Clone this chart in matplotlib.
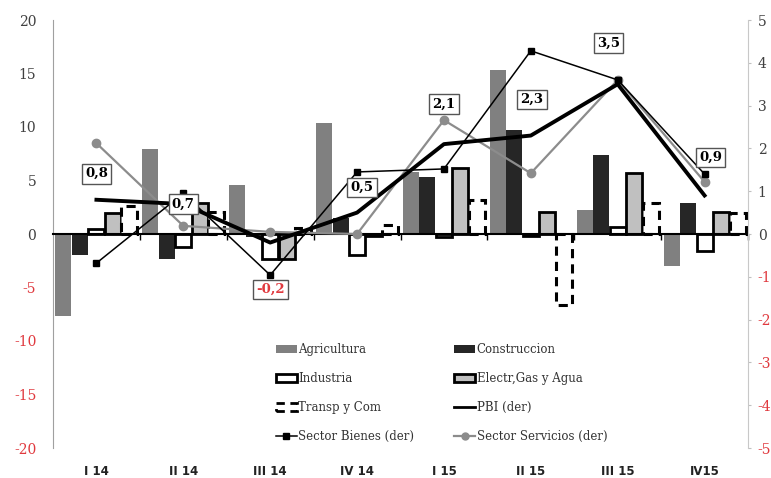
import numpy as np
import matplotlib.pyplot as plt
from matplotlib.patches import Patch
from matplotlib.lines import Line2D

plt.rcParams['axes.unicode_minus'] = False

quarters = ['I 14', 'II 14', 'III 14', 'IV 14', 'I 15', 'II 15', 'III 15', 'IV15']

# sectores (eje izq, var %)
agricultura = [-7.7, 7.9, 4.6, 10.4, 5.8, 15.3, 2.2, -3.0]
construccion = [-2.0, -2.3, -0.3, 1.5, 5.3, 9.7, 7.4, 2.9]
industria = [0.5, -1.2, -2.3, -2.0, -0.3, -0.2, 0.7, -1.6]
electr = [2.0, 2.9, -2.3, -0.15, 6.2, 2.1, 5.7, 2.1]
transp = [2.6, 2.1, 0.6, 0.8, 3.2, -6.6, 2.9, 2.0]

# eje der
pbi = [0.8, 0.7, -0.2, 0.5, 2.1, 2.3, 3.5, 0.9]
bienes = [-0.68, 0.95, -0.96, 1.45, 1.52, 4.28, 3.6, 1.4]
servicios = [2.12, 0.19, 0.05, 0.0, 2.66, 1.42, 3.6, 1.22]
pbi_labels = ['0,8', '0,7', '-0,2', '0,5', '2,1', '2,3', '3,5', '0,9']
# offsets of the label boxes (pixels)
label_off = [(0, 26), (0, 0), (0, -47), (5, 25), (0, 40), (1, 36), (-9, 41), (6, 38)]

RED = '#e0393e'
serif = 'DejaVu Serif'

fig = plt.figure(figsize=(7.71, 4.78), dpi=100)
ax = fig.add_axes([53/771, 30/478, 695/771, 428/478])
x = np.arange(len(quarters))
w = 0.185
step = 0.19

ax.bar(x - 2*step, agricultura, w, color='#808080', zorder=2)
ax.bar(x - step, construccion, w, color='#262626', zorder=2)
ax.bar(x, industria, w, color='white', edgecolor='black', linewidth=2, zorder=2)
ax.bar(x + step, electr, w, color='#c0c0c0', edgecolor='black', linewidth=2, zorder=2)
ax.bar(x + 2*step, transp, w, color='white', edgecolor='black', linewidth=2.2,
       linestyle=(0, (3, 2)), zorder=2)

ax.set_xlim(-0.5, 7.5)
ax.set_ylim(-20, 20)
ax.set_yticks(np.arange(-20, 21, 5))
ax.tick_params(axis='y', length=0, pad=12, labelsize=10, labelcolor='#404040')
for lab, v in zip(ax.get_yticklabels(), ax.get_yticks()):
    lab.set_fontfamily(serif)
    if v < 0:
        lab.set_color(RED)

# eje x en cero
ax.spines['top'].set_visible(False)
ax.spines['right'].set_visible(False)
ax.spines['left'].set_color('#a0a0a0')
ax.spines['bottom'].set_position(('data', 0))
ax.spines['bottom'].set_linewidth(1.5)
ax.spines['bottom'].set_zorder(3)
ax.set_xticks(x[:-1] + 0.5)
ax.set_xticks([x[-1] + 0.5], minor=True)
ax.tick_params(axis='x', which='both', direction='out', length=4, width=1, labelbottom=False)

sec = ax.secondary_xaxis('bottom')
sec.set_xticks(x)
sec.set_xticklabels(quarters, fontweight='bold', fontsize=8.5, color='#222222')
sec.tick_params(length=0, pad=12)
sec.spines['bottom'].set_visible(False)

ax2 = ax.twinx()
ax2.set_ylim(-5, 5)
ax2.set_yticks(np.arange(-5, 6, 1))
ax2.tick_params(axis='y', length=2, color='#c0c0c0', pad=5, labelsize=10, labelcolor='#404040')
for lab, v in zip(ax2.get_yticklabels(), ax2.get_yticks()):
    lab.set_fontfamily(serif)
    if v < 0:
        lab.set_color(RED)
for s in ['top', 'left', 'bottom']:
    ax2.spines[s].set_visible(False)
ax2.spines['right'].set_color('#c8c8c8')

ax2.plot(x, servicios, color='#8c8c8c', lw=1.6, marker='o', ms=6, zorder=3)
ax2.plot(x, bienes, color='black', lw=1.1, marker='s', ms=4, zorder=4)
ax2.plot(x, pbi, color='black', lw=2.8, zorder=5)

for i, (t, off) in enumerate(zip(pbi_labels, label_off)):
    ax2.annotate(t, (x[i], pbi[i]), xytext=off, textcoords='offset pixels',
                 ha='center', va='center', fontsize=9.5, fontweight='bold',
                 family=serif, color=RED if pbi[i] < 0 else 'black', zorder=6,
                 bbox=dict(boxstyle='square,pad=0.25', fc='white', ec='#555555', lw=1))

handles = [
    Patch(fc='#808080', ec='none', label='Agricultura'),
    Patch(fc='white', ec='black', lw=2, label='Industria'),
    Patch(fc='white', ec='black', lw=2, ls=(0, (3, 2)), label='Transp y Com'),
    Line2D([], [], color='black', lw=1.1, marker='s', ms=4, label='Sector Bienes (der)'),
    Patch(fc='#262626', ec='none', label='Construccion'),
    Patch(fc='#c0c0c0', ec='black', lw=2, label='Electr,Gas y Agua'),
    Line2D([], [], color='black', lw=2, label='PBI (der)'),
    Line2D([], [], color='#8c8c8c', lw=1.6, marker='o', ms=5, label='Sector Servicios (der)'),
]
ax2.legend(handles=handles, ncol=2, loc='upper left', bbox_to_anchor=(0.305, 0.27),
           frameon=False, prop={'family': serif, 'size': 8.5}, labelspacing=1.35,
           handlelength=1.8, handletextpad=0.1, columnspacing=3.4,
           labelcolor='#333333')

fig.savefig('out.png', dpi=100)
